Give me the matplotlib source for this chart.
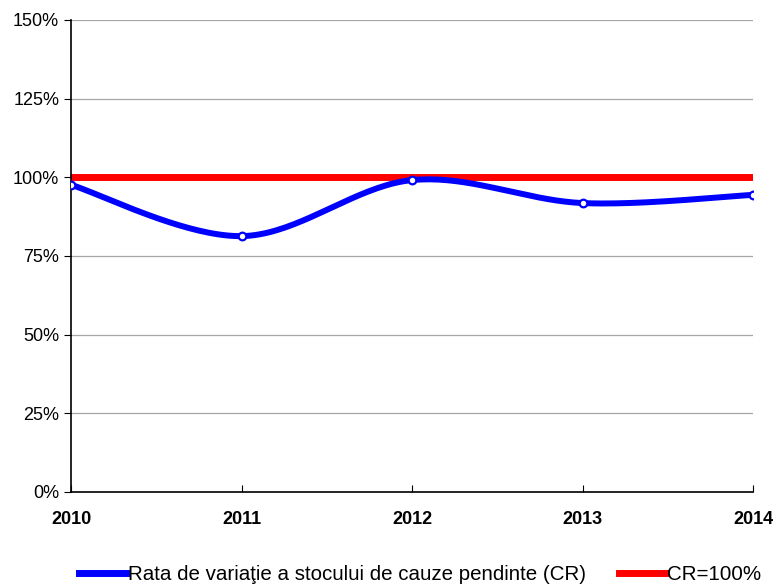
import numpy as np
import matplotlib.pyplot as plt
from matplotlib.ticker import FuncFormatter

years = [2010, 2011, 2012, 2013, 2014]
cr = [97.6, 81.3, 99.1, 91.8, 94.4]
tinta = [100, 100, 100, 100, 100]
y_ticks = [0, 25, 50, 75, 100, 125, 150]


def excel_smooth(x, y, n=40):
    # curba netezita ca in Excel (Bezier cu puncte de control Catmull-Rom)
    x = np.asarray(x, float)
    y = np.asarray(y, float)
    px, py = [], []
    for i in range(len(x) - 1):
        x0, y0 = (x[i - 1], y[i - 1]) if i > 0 else (x[i], y[i])
        x3, y3 = (x[i + 2], y[i + 2]) if i + 2 < len(x) else (x[i + 1], y[i + 1])
        c1x = x[i] + (x[i + 1] - x0) / 6
        c1y = y[i] + (y[i + 1] - y0) / 6
        c2x = x[i + 1] - (x3 - x[i]) / 6
        c2y = y[i + 1] - (y3 - y[i]) / 6
        t = np.linspace(0, 1, n)
        px.extend((1-t)**3*x[i] + 3*(1-t)**2*t*c1x + 3*(1-t)*t**2*c2x + t**3*x[i+1])
        py.extend((1-t)**3*y[i] + 3*(1-t)**2*t*c1y + 3*(1-t)*t**2*c2y + t**3*y[i+1])
    return np.array(px), np.array(py)


plt.rcParams['font.family'] = ['Liberation Sans', 'DejaVu Sans']

fig = plt.figure(figsize=(7.76, 5.85), dpi=100)
ax = fig.add_axes([0.0915, 0.159, 0.879, 0.807])

sx, sy = excel_smooth(years, cr)
ax.plot(sx, sy, color='#0000FF', lw=4.3, solid_capstyle='round', zorder=3)
ax.plot(years, cr, 'o', ms=5.5, mfc='white', mec='#0000FF', mew=1.6, zorder=4)
ax.plot(years, tinta, color='#FF0000', lw=5, zorder=2)

# intrari pentru legenda
ax.plot([], [], color='#0000FF', lw=5, label='Rata de variaţie a stocului de cauze pendinte (CR)')
ax.plot([], [], color='#FF0000', lw=5, label='CR=100%')

ax.set_xlim(2010, 2014)
ax.set_ylim(0, 150)
ax.set_yticks(y_ticks)
ax.yaxis.set_major_formatter(FuncFormatter(lambda v, p: f'{v:.0f}%'))
ax.set_xticks(years)
ax.grid(axis='y', color='#A6A6A6', lw=0.9)
ax.set_axisbelow(True)

for s in ['top', 'right']:
    ax.spines[s].set_visible(False)
ax.spines['left'].set_linewidth(1.2)
ax.spines['bottom'].set_linewidth(1.2)

ax.tick_params(axis='y', direction='out', length=5, labelsize=13, colors='black')
ax.tick_params(axis='x', direction='in', length=5, labelsize=13, pad=14)
for lbl in ax.get_xticklabels():
    lbl.set_fontweight('bold')

ax.legend(loc='center', bbox_to_anchor=(0.512, -0.175), ncol=2, frameon=False,
          fontsize=14.8, handlelength=2.25, handletextpad=0.1, columnspacing=1.6,
          borderpad=0)

fig.savefig('out.png', dpi=100)
